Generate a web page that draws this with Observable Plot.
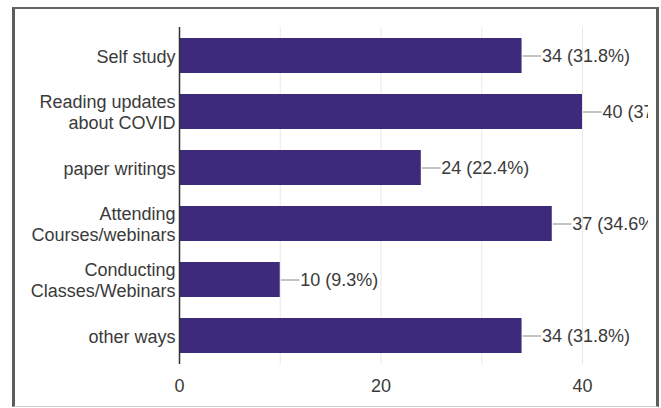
<!DOCTYPE html>
<html>
<head>
<meta charset="utf-8">
<script src="https://cdn.jsdelivr.net/npm/d3@7"></script>
<script src="https://cdn.jsdelivr.net/npm/@observablehq/plot@0.6"></script>
<style>
  html, body { margin: 0; padding: 0; background: #fff; }
  #wrap { position: relative; width: 661px; height: 408px; overflow: hidden; }
  #frame {
    position: absolute; left: 12px; top: 7px; width: 647px; height: 400px;
    box-sizing: border-box;
    border-left: 3px solid #5c5c5c; border-top: 2px solid #666;
    border-right: 3px solid #5c5c5c; border-bottom: 1px solid #d0d0d0;
    pointer-events: none;
  }
</style>
</head>
<body>
<div id="wrap"><div id="frame"></div></div>
<script>
// Categories (multi-line labels), counts and percentages
const categories = [
  "Self study",
  "Reading updates\nabout COVID",
  "paper writings",
  "Attending\nCourses/webinars",
  "Conducting\nClasses/Webinars",
  "other ways"
];
const counts = [34, 40, 24, 37, 10, 34];
const percents = ["31.8%", "37.4%", "22.4%", "34.6%", "9.3%", "31.8%"];
const xTicks = [0, 20, 40];
const gridTicks = [10, 20, 30, 40];

const data = categories.map((c, i) => ({cat: c, value: counts[i], label: `${counts[i]} (${percents[i]})`}));

const barColor = "#3e2a7b";
const textColor = "#3a3a3a";

const chart = Plot.plot({
  width: 648,
  height: 408,
  marginLeft: 179,
  marginRight: 66,
  marginTop: 27,
  marginBottom: 44,
  style: {fontFamily: "'Liberation Sans', Arial, sans-serif", fontSize: "18px", color: textColor, background: "transparent"},
  x: {domain: [0, 40], axis: null, label: null},
  y: {domain: categories, paddingInner: 0.375, paddingOuter: 0.1875, axis: null, label: null},
  marks: [
    Plot.gridX(gridTicks, {stroke: "#d8d8d8", strokeOpacity: 0.6}),
    Plot.barX(data, {x: "value", y: "cat", fill: barColor}),
    // leader lines from bar end to value label (offset in data units ≈ 18px)
    Plot.ruleY(data, {y: "cat", x1: "value", x2: d => d.value + 1.85, stroke: "#888", strokeWidth: 1, dx: 1}),
    Plot.text(data, {x: "value", y: "cat", text: "label", textAnchor: "start", dx: 20, fontSize: 18, fill: textColor}),
    Plot.text(data, {x: 0, y: "cat", text: "cat", textAnchor: "end", dx: -4, fontSize: 18, lineHeight: 1.15, fill: textColor}),
    Plot.ruleX([0], {stroke: "#333", strokeWidth: 1.5}),
    Plot.axisX(xTicks, {tickSize: 0, tickPadding: 15, fontSize: 18, fill: textColor, label: null})
  ]
});

document.getElementById("wrap").prepend(chart);
chart.style.position = "absolute";
chart.style.left = "0px";
chart.style.top = "0px";
</script>
</body>
</html>
